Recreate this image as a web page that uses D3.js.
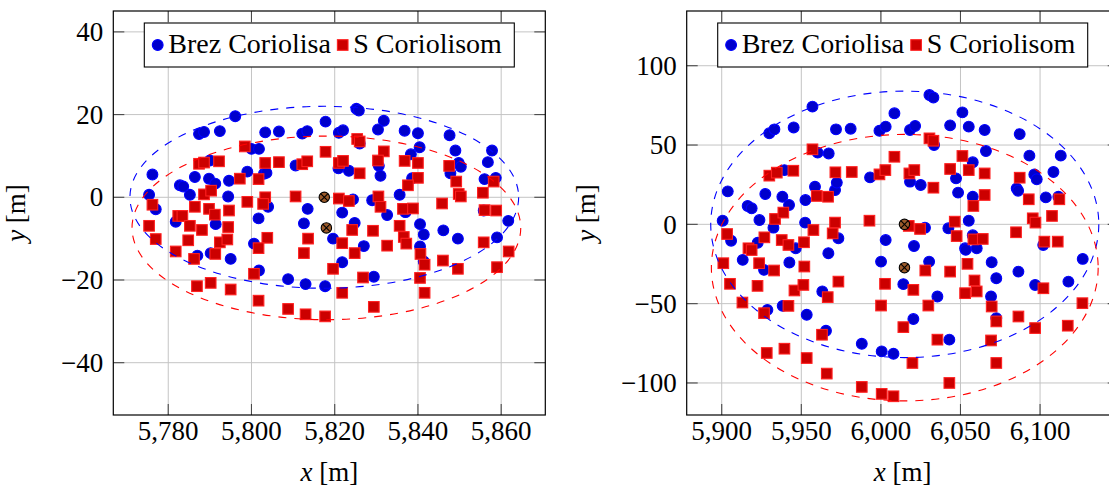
<!DOCTYPE html>
<html><head><meta charset="utf-8">
<script src="https://cdn.jsdelivr.net/npm/d3@7"></script>
<style>body{margin:0;background:#fff}svg{display:block}</style>
</head><body>
<script>
// ---------- data ----------
const seriesNames = ["Brez Coriolisa", "S Coriolisom"];
const leftBrez = [[5825.2,21.4],[5825.8,21.0],[5796.1,19.6],[5817.8,18.3],[5831.8,18.5],[5787.4,15.3],[5788.6,15.8],[5792.4,16.0],[5803.3,15.7],[5806.6,15.9],[5812.2,15.4],[5813.4,16.0],[5821.0,15.6],[5822.0,16.2],[5830.4,16.4],[5836.8,16.1],[5840.0,15.5],[5847.6,15.0],[5800.0,11.7],[5801.8,11.7],[5840.4,12.1],[5826.0,13.0],[5849.0,11.3],[5857.8,11.3],[5838.3,10.4],[5776.2,5.5],[5786.4,4.9],[5790.0,8.9],[5789.8,4.5],[5791.3,3.3],[5782.8,2.9],[5783.6,2.6],[5785.2,0.6],[5794.6,4.0],[5799.0,6.2],[5803.0,5.7],[5803.6,5.9],[5810.6,7.7],[5820.9,7.0],[5823.4,6.4],[5830.6,7.6],[5831.0,5.2],[5849.8,8.3],[5850.3,7.4],[5856.8,8.5],[5847.8,5.8],[5856.0,4.4],[5858.7,4.7],[5838.6,4.6],[5835.6,0.6],[5775.4,0.6],[5777.0,-2.9],[5794.4,0.2],[5804.0,-2.3],[5813.5,-2.8],[5824.4,-0.5],[5829.0,-0.7],[5821.8,-3.7],[5832.6,-4.3],[5837.0,-3.6],[5801.7,-5.1],[5812.6,-6.3],[5824.8,-6.2],[5840.5,-6.5],[5841.4,-9.0],[5846.1,-8.0],[5849.6,-10.0],[5859.0,-9.7],[5861.7,-5.7],[5781.8,-5.9],[5791.4,-6.5],[5819.6,-10.0],[5800.6,-11.2],[5827.0,-11.8],[5855.8,-3.2],[5787.0,-14.1],[5790.2,-13.5],[5795.0,-14.9],[5801.8,-17.7],[5808.8,-19.8],[5813.0,-21.0],[5817.7,-21.5],[5821.8,-15.7],[5829.4,-19.2],[5840.5,-11.9],[5841.4,-15.5]];
const leftS = [[5825.4,14.1],[5826.0,13.5],[5798.4,12.3],[5817.8,11.0],[5831.8,11.1],[5787.4,8.1],[5788.6,8.4],[5792.2,8.7],[5803.3,8.3],[5806.6,8.5],[5812.2,8.0],[5813.4,8.7],[5821.0,8.3],[5822.0,8.8],[5830.4,8.9],[5836.8,8.8],[5840.0,8.3],[5847.5,7.6],[5826.0,5.8],[5797.2,4.5],[5801.7,4.4],[5840.0,4.7],[5849.2,3.8],[5858.2,3.8],[5837.6,2.9],[5855.6,1.1],[5788.6,0.7],[5790.3,1.6],[5849.8,0.8],[5850.3,0.2],[5810.6,0.2],[5803.3,0.0],[5821.0,-0.3],[5823.4,-0.9],[5830.5,0.2],[5831.0,-2.3],[5845.8,-1.5],[5799.0,-1.1],[5802.8,-1.6],[5776.2,-1.8],[5786.4,-2.3],[5789.8,-2.8],[5791.2,-4.2],[5794.6,-3.2],[5836.4,-2.8],[5838.8,-2.7],[5856.0,-3.1],[5858.8,-3.2],[5782.4,-4.5],[5783.4,-4.5],[5775.4,-6.9],[5785.2,-6.9],[5788.1,-7.9],[5794.4,-7.2],[5824.2,-7.9],[5829.2,-8.1],[5835.6,-6.9],[5777.0,-10.1],[5784.8,-10.4],[5792.4,-10.9],[5794.2,-10.2],[5803.8,-9.8],[5813.6,-10.0],[5821.8,-11.1],[5832.6,-11.7],[5836.6,-9.6],[5837.2,-11.2],[5855.8,-10.9],[5861.8,-13.1],[5781.8,-13.1],[5786.2,-14.9],[5791.3,-13.7],[5801.7,-12.3],[5812.6,-13.5],[5824.8,-13.5],[5840.6,-13.7],[5841.6,-16.3],[5846.0,-15.3],[5849.6,-17.3],[5859.0,-16.9],[5800.6,-18.5],[5819.6,-17.3],[5826.8,-19.4],[5840.5,-19.5],[5841.6,-23.1],[5786.9,-21.5],[5790.2,-20.7],[5795.0,-22.3],[5801.7,-25.0],[5808.8,-27.0],[5813.0,-28.3],[5817.7,-28.8],[5821.8,-23.1],[5829.4,-26.5]];
const rightBrez = [[6030.5,81.5],[6033.0,80.0],[5957.0,74.2],[6008.5,70.0],[6051.2,70.6],[5929.9,57.4],[5933.1,59.9],[5945.2,61.1],[5971.8,59.9],[5981.0,60.3],[5999.1,59.0],[6003.0,61.6],[6018.3,59.5],[6021.5,62.0],[6043.5,62.4],[6055.2,61.6],[6065.2,59.5],[6087.2,56.9],[5960.3,45.2],[5967.2,44.7],[6033.4,50.0],[6066.0,46.2],[6057.7,39.1],[6093.3,43.3],[6113.0,43.3],[6096.4,31.5],[6097.9,28.4],[6108.4,33.0],[5903.8,20.8],[5927.4,19.1],[5939.4,34.2],[5938.1,17.4],[5942.3,12.2],[5916.3,11.6],[5918.8,10.1],[5923.7,2.7],[5952.6,15.3],[5958.6,23.7],[5971.2,21.6],[5972.3,26.3],[5993.2,29.6],[6018.3,26.9],[6025.0,24.8],[6047.2,29.0],[6048.5,20.0],[6057.7,17.4],[6085.3,22.7],[6086.2,21.2],[6103.6,17.0],[6111.5,17.4],[5900.6,2.3],[5905.9,-10.3],[5932.5,-2.1],[5952.4,1.1],[5973.3,-8.8],[6003.0,-9.9],[6020.8,-13.7],[6027.7,-2.1],[6042.4,-2.5],[6055.2,2.3],[6057.7,-6.9],[6052.9,-15.1],[5922.6,-11.6],[5946.5,-15.1],[6102.0,-13.0],[5913.2,-22.4],[5926.6,-28.7],[5928.7,-53.9],[5938.3,-51.4],[5942.5,-24.1],[5963.2,-42.3],[5953.4,-57.0],[5965.5,-67.1],[5967.0,-18.2],[5988.0,-75.3],[6000.5,-80.1],[6007.9,-81.6],[6000.1,-23.5],[6014.1,-37.7],[6020.4,-59.7],[6030.3,-23.5],[6035.5,-45.5],[6043.0,-72.7],[6053.3,-16.1],[6060.2,-15.1],[6069.6,-23.9],[6072.5,-34.0],[6069.2,-45.5],[6072.5,-59.1],[6086.4,-29.8],[6096.9,-38.2],[6117.8,-36.1],[6126.8,-21.8]];
const rightS = [[6030.5,54.2],[6033.0,52.7],[5957.0,47.3],[6008.5,42.6],[6051.2,43.1],[5929.9,30.7],[5934.6,32.6],[5945.0,33.8],[5971.4,32.8],[5981.7,33.0],[5999.1,31.5],[6002.8,34.2],[6017.9,32.1],[6021.0,34.2],[6043.5,34.9],[6055.2,34.2],[6065.2,32.1],[6087.2,29.4],[6033.0,23.1],[5959.7,17.9],[5966.8,17.4],[6065.2,18.5],[6092.9,15.8],[6112.1,15.8],[6058.1,11.6],[6107.5,5.3],[5933.5,3.4],[5938.7,7.4],[6095.4,3.8],[6097.1,1.1],[5992.8,2.3],[5971.2,1.1],[6017.5,-1.0],[6024.6,-2.9],[6046.4,1.7],[6047.6,-7.4],[6084.9,-5.0],[5957.6,-3.6],[5969.7,-5.7],[5903.4,-6.1],[5926.8,-8.2],[5937.7,-9.9],[5951.7,-11.3],[5941.9,-13.0],[6058.1,-9.5],[6064.0,-9.2],[6102.7,-10.9],[6111.1,-10.9],[5916.8,-15.1],[5918.8,-16.2],[5901.0,-24.5],[5923.5,-24.5],[5932.9,-29.1],[5922.5,-38.8],[5905.2,-37.5],[5913.0,-49.3],[5926.6,-56.0],[5941.9,-51.4],[5945.7,-41.7],[5951.3,-38.2],[5951.9,-26.6],[5966.6,-45.9],[5973.3,-36.1],[5963.0,-69.6],[5928.3,-81.1],[5939.4,-78.4],[5953.4,-84.3],[5966.0,-94.1],[5988.0,-102.5],[6000.5,-106.9],[6007.9,-108.4],[6000.1,-51.2],[6002.6,-37.5],[6014.1,-64.8],[6020.4,-41.3],[6019.8,-87.4],[6027.9,-29.1],[6029.8,-51.2],[6035.5,-72.7],[6043.5,-29.8],[6043.0,-100.0],[6052.9,-43.4],[6060.2,-42.3],[6054.4,-24.9],[6058.8,-35.4],[6069.6,-51.8],[6072.5,-61.2],[6069.2,-73.2],[6072.5,-87.4],[6086.4,-58.1],[6096.9,-65.4],[6102.1,-40.3],[6117.4,-63.9],[6126.6,-49.7]];
// ellipse: centre x, centre y, radius x, radius y
const leftEllipseBrez = [5817.5, 0, 46.7, 22.0];
const leftEllipseS = [5818.0, -7.4, 46.7, 22.2];
const rightEllipseBrez = [6015.0, 0, 121.9, 84.0];
const rightEllipseS = [6015.0, -27.3, 121.5, 84.0];
const leftCentres = [[5817.5, 0], [5818.0, -7.4]];
const rightCentres = [[6014.8, 0], [6014.8, -27.3]];
const leftXTicks = [5780, 5800, 5820, 5840, 5860];
const leftYTicks = [-40, -20, 0, 20, 40];
const rightXTicks = [5900, 5950, 6000, 6050, 6100];
const rightYTicks = [-100, -50, 0, 50, 100];
const leftXDomain = [5766.8, 5870.6], leftYDomain = [-52.65, 45.05];
const rightXDomain = [5878.0, 6149.4], rightYDomain = [-120.2, 134.5];

// ---------- drawing ----------
const W = 1109, H = 490;
const FONT = "'Liberation Serif', 'DejaVu Serif', serif";
const svg = d3.select("body").append("svg").attr("width", W).attr("height", H)
  .style("font-family", FONT);

function panel(o) {
  const x = d3.scaleLinear().domain(o.xDomain).range([o.left, o.left + 432]);
  const y = d3.scaleLinear().domain(o.yDomain).range([415, 11]);
  const g = svg.append("g");
  const [x0, x1] = x.range(), [y1, y0] = y.range();
  // grid
  const grid = g.append("g").attr("stroke", "#c4c4c4").attr("stroke-width", 1);
  o.xTicks.forEach(t => grid.append("line").attr("x1", x(t)).attr("x2", x(t)).attr("y1", y0).attr("y2", y1));
  o.yTicks.forEach(t => grid.append("line").attr("y1", y(t)).attr("y2", y(t)).attr("x1", x0).attr("x2", x1));
  // tick marks (inside, all sides)
  const tl = 11;
  const tk = g.append("g").attr("stroke", "#4a4a4a").attr("stroke-width", 1.1);
  o.xTicks.forEach(t => {
    tk.append("line").attr("x1", x(t)).attr("x2", x(t)).attr("y1", y1).attr("y2", y1 - tl);
    tk.append("line").attr("x1", x(t)).attr("x2", x(t)).attr("y1", y0).attr("y2", y0 + tl);
  });
  o.yTicks.forEach(t => {
    tk.append("line").attr("y1", y(t)).attr("y2", y(t)).attr("x1", x0).attr("x2", x0 + tl);
    tk.append("line").attr("y1", y(t)).attr("y2", y(t)).attr("x1", x1).attr("x2", x1 - tl);
  });
  // blue circles
  g.append("g").selectAll("circle").data(o.brez).join("circle")
    .attr("cx", d => x(d[0])).attr("cy", d => y(d[1])).attr("r", 5.4)
    .attr("fill", "#0000cc").attr("stroke", "#0000ff").attr("stroke-width", 1.1);
  // red squares
  const s = 10.6;
  g.append("g").selectAll("rect").data(o.sq).join("rect")
    .attr("x", d => x(d[0]) - s / 2).attr("y", d => y(d[1]) - s / 2).attr("width", s).attr("height", s)
    .attr("fill", "#cc0000").attr("stroke", "#ff2020").attr("stroke-width", 1.1);
  // ellipses
  [[o.eBrez, "#0000ff"], [o.eS, "#ff0000"]].forEach(([e, c]) => {
    g.append("ellipse").attr("cx", x(e[0])).attr("cy", y(e[1]))
      .attr("rx", x(e[0] + e[2]) - x(e[0])).attr("ry", y(e[1] - e[3]) - y(e[1]))
      .attr("fill", "none").attr("stroke", c).attr("stroke-width", 1.1).attr("stroke-dasharray", "8,8");
  });
  // centre markers
  o.centres.forEach(c => {
    const cx = x(c[0]), cy = y(c[1]), r = 5.2, k = r * 0.7071;
    g.append("circle").attr("cx", cx).attr("cy", cy).attr("r", r)
      .attr("fill", "#9b5a2a").attr("stroke", "#000").attr("stroke-width", 1.1);
    g.append("path").attr("d", `M${cx - k},${cy - k}L${cx + k},${cy + k}M${cx - k},${cy + k}L${cx + k},${cy - k}`)
      .attr("stroke", "#000").attr("stroke-width", 1.1);
  });
  // frame
  g.append("rect").attr("x", x0).attr("y", y0).attr("width", x1 - x0).attr("height", y1 - y0)
    .attr("fill", "none").attr("stroke", "#000").attr("stroke-width", 1.2);
  // tick labels
  const fmt = d3.format(",");
  g.append("g").selectAll("text").data(o.xTicks).join("text")
    .attr("x", d => x(d)).attr("y", 440).attr("text-anchor", "middle").attr("font-size", 27)
    .text(d => fmt(d));
  g.append("g").selectAll("text").data(o.yTicks).join("text")
    .attr("x", x0 - 10).attr("y", d => y(d)).attr("dy", "0.34em").attr("text-anchor", "end").attr("font-size", 27)
    .text(d => fmt(d));
  // axis titles
  const xt = g.append("text").attr("x", (x0 + x1) / 2).attr("y", 481).attr("text-anchor", "middle").attr("font-size", 27);
  xt.append("tspan").attr("font-style", "italic").text("x");
  xt.append("tspan").text(" [m]");
  const yt = g.append("text").attr("transform", `translate(${o.yLabelX},${(y0 + y1) / 2}) rotate(-90)`)
    .attr("text-anchor", "middle").attr("font-size", 27);
  yt.append("tspan").attr("font-style", "italic").text("y");
  yt.append("tspan").text(" [m]");
  // legend
  const lx = (x0 + x1) / 2 - 185, ly = 23;
  const lg = g.append("g");
  lg.append("rect").attr("x", lx).attr("y", ly).attr("width", 370).attr("height", 44)
    .attr("fill", "#fff").attr("stroke", "#000").attr("stroke-width", 1.1);
  lg.append("circle").attr("cx", lx + 13.4).attr("cy", ly + 22).attr("r", 5.4)
    .attr("fill", "#0000cc").attr("stroke", "#0000ff").attr("stroke-width", 1.1);
  lg.append("text").attr("x", lx + 24).attr("y", ly + 30).attr("font-size", 28).text(seriesNames[0]);
  lg.append("rect").attr("x", lx + 198.4 - s / 2).attr("y", ly + 22 - s / 2).attr("width", s).attr("height", s)
    .attr("fill", "#cc0000").attr("stroke", "#ff2020").attr("stroke-width", 1.1);
  lg.append("text").attr("x", lx + 209).attr("y", ly + 30).attr("font-size", 28).text(seriesNames[1]);
}

panel({left: 113.3, xDomain: leftXDomain, yDomain: leftYDomain, xTicks: leftXTicks, yTicks: leftYTicks,
  brez: leftBrez, sq: leftS, eBrez: leftEllipseBrez, eS: leftEllipseS, centres: leftCentres, yLabelX: 25});
panel({left: 686.7, xDomain: rightXDomain, yDomain: rightYDomain, xTicks: rightXTicks, yTicks: rightYTicks,
  brez: rightBrez, sq: rightS, eBrez: rightEllipseBrez, eS: rightEllipseS, centres: rightCentres, yLabelX: 595});
</script>
</body></html>
